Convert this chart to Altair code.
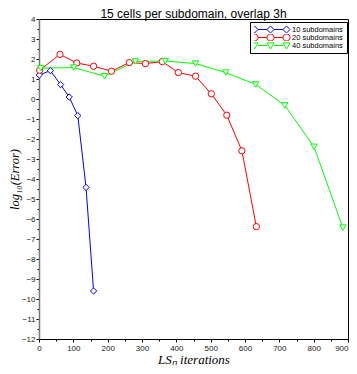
import altair as alt
import pandas as pd

series_names = ["10 subdomains", "20 subdomains", "40 subdomains"]
colors = ["#0000ff", "#ff0000", "#00ff00"]

x10 = [1, 33, 63, 88, 113, 137, 159]
y10 = [1.2, 1.42, 0.72, 0.1, -0.83, -4.42, -9.6]
x20 = [2, 61, 110, 159, 211, 263, 310, 359, 406, 456, 502, 547, 591, 633]
y20 = [1.44, 2.23, 1.8, 1.64, 1.39, 1.82, 1.77, 1.87, 1.32, 1.14, 0.26, -0.81, -2.59, -6.38]
x40 = [5, 101, 191, 281, 368, 456, 544, 631, 716, 801, 885]
y40 = [1.54, 1.57, 1.14, 1.88, 1.9, 1.77, 1.32, 0.73, -0.32, -2.39, -6.43]

x_ticks = list(range(0, 901, 50))
y_ticks = [v / 2 for v in range(-24, 9)]

rows = []
for name, xs, ys in zip(series_names, [x10, x20, x40], [y10, y20, y40]):
    for a, b in zip(xs, ys):
        rows.append({"x": a, "y": b, "series": name})
df = pd.DataFrame(rows)


def seg_path(kind, r=0.22):
    centers = [-1, 0, 1]
    parts = []
    for c in centers:
        if kind == "diamond":
            parts.append(f"M{c - r},0L{c},{-r}L{c + r},0L{c},{r}Z")
        elif kind == "circle":
            parts.append(f"M{c - r},0A{r},{r} 0 1 0 {c + r},0A{r},{r} 0 1 0 {c - r},0Z")
        else:
            parts.append(f"M{c - r},{-r * 0.75}L{c + r},{-r * 0.75}L{c},{r}Z")
    for a, b in [(-1, 0), (0, 1)]:
        parts.append(f"M{a + r},0L{b - r},0")
    return "".join(parts)


legend_shapes = [seg_path("diamond"), seg_path("circle"), seg_path("triangle")]

xscale = alt.Scale(domain=[0, 900], nice=False, zero=False)
yscale = alt.Scale(domain=[-12, 4], nice=False, zero=False)
cscale = alt.Scale(domain=series_names, range=colors)

xaxis = alt.Axis(
    values=x_ticks,
    tickCount=200,
    labelExpr="datum.value % 100 == 0 ? format(datum.value, 'd') : ''",
    labelAlign={"condition": {"test": "datum.value >= 900", "value": "right"}, "value": "center"},
    title="LSₙ iterations",
    titleFont="Liberation Serif",
    titleFontStyle="italic",
    titleFontWeight="normal",
    titleFontSize=13,
    titleColor="black",
    titlePadding=1,
    labelFont="Liberation Sans",
    labelFontSize=8,
    labelColor="#222",
    labelPadding=2,
    tickColor="black",
    tickSize={"condition": {"test": "datum.value % 100 != 0", "value": 2}, "value": 3},
    domainColor="black",
    grid=False,
    labelFlush=False,
    labelOverlap=False,
)
yaxis = alt.Axis(
    values=y_ticks,
    tickCount=200,
    labelExpr="datum.value % 1 == 0 ? format(datum.value, 'd') : ''",
    title="log₁₀(Error)",
    titleFont="Liberation Serif",
    titleFontStyle="italic",
    titleFontWeight="normal",
    titleFontSize=12.5,
    titleColor="black",
    titlePadding=0,
    labelFont="Liberation Sans",
    labelFontSize=8,
    labelColor="#222",
    labelPadding=1,
    tickColor="black",
    tickSize={"condition": {"test": "datum.value % 1 != 0", "value": 2}, "value": 3},
    domainColor="#777",
    domainWidth=1.5,
    grid=False,
    labelFlush=False,
    labelOverlap=False,
)

base = alt.Chart(df)

lines = base.mark_line(strokeWidth=1).encode(
    x=alt.X("x:Q", scale=xscale, axis=xaxis),
    y=alt.Y("y:Q", scale=yscale, axis=yaxis),
    color=alt.Color("series:N", scale=cscale, legend=None),
    detail="series:N",
)

points = base.mark_point(filled=False, fill="white", fillOpacity=1, strokeWidth=1, size=40).encode(
    x=alt.X("x:Q", scale=xscale),
    y=alt.Y("y:Q", scale=yscale),
    color=alt.Color("series:N", scale=cscale, legend=None),
    shape=alt.Shape("series:N", scale=alt.Scale(domain=series_names, range=["diamond", "circle", "triangle-down"]), legend=None),
)

leg_opts = dict(
    title=None,
    orient="none",
    legendX=211,
    legendY=3,
    strokeColor="black",
    fillColor="white",
    padding=4,
    symbolSize=1024,
    symbolStrokeWidth=1,
    symbolOpacity=1,
    clipHeight=7,
    rowPadding=0,
    labelOffset=5,
    labelFont="Liberation Sans",
    labelFontSize=7.5,
    labelColor="black",
)

legend_layer = base.mark_point(filled=False, opacity=0).encode(
    x=alt.X("x:Q", scale=xscale),
    y=alt.Y("y:Q", scale=yscale),
    color=alt.Color("series:N", scale=alt.Scale(domain=series_names, range=colors), legend=alt.Legend(**leg_opts)),
    shape=alt.Shape("series:N", scale=alt.Scale(domain=series_names, range=legend_shapes), legend=alt.Legend(**leg_opts)),
)

chart = (
    alt.layer(lines, points, legend_layer)
    .resolve_scale(color="independent", shape="independent")
    .properties(
        width=309,
        height=320,
        autosize=alt.AutoSizeParams(type="none"),
        padding={"left": 31, "right": 1, "top": 11, "bottom": 27},
        title=alt.TitleParams(
            "15 cells per subdomain, overlap 3h",
            font="Liberation Sans",
            fontSize=12,
            fontWeight="normal",
            color="black",
            offset=2,
            dy=8,
        ),
        background="white",
    )
    .configure_view(stroke="black", strokeWidth=1)
    .configure_axis(labelOverlap=False)
)

chart.save("out.html", embed_options={"renderer": "svg", "actions": False})
